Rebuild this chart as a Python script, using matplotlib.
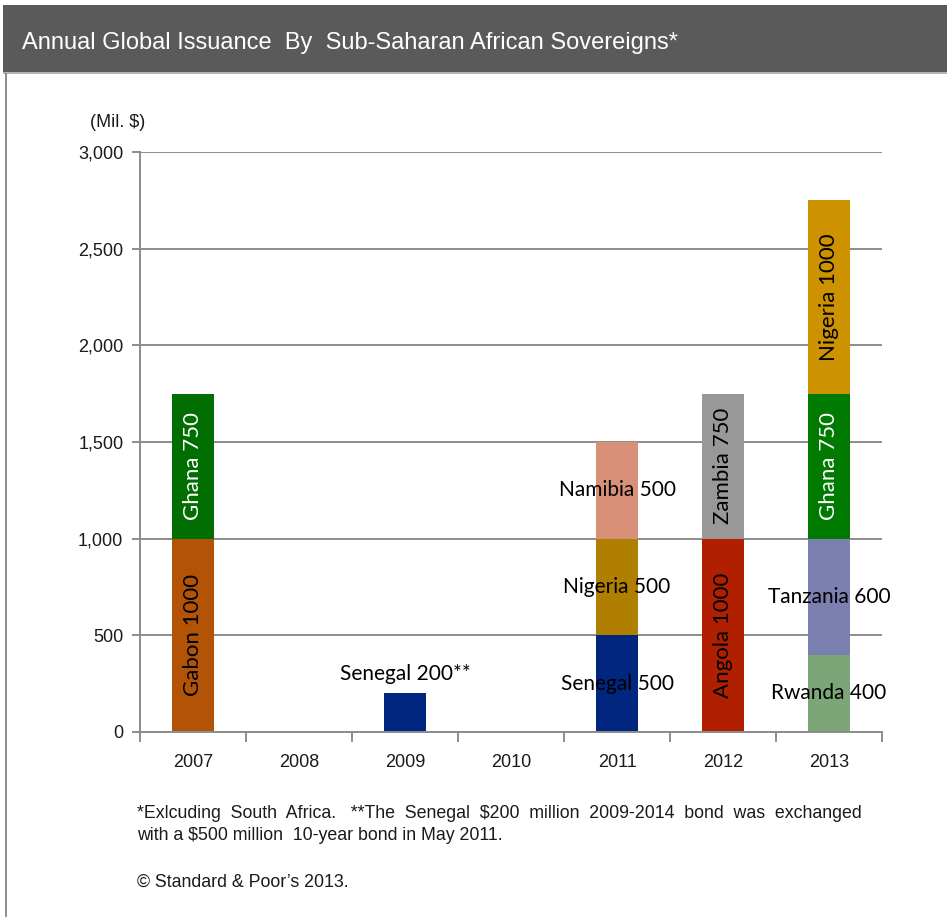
"""
Annual global issuance by Sub-Saharan African sovereigns, stacked by year
"""
import matplotlib.pyplot as plt
from matplotlib.patches import Rectangle
from matplotlib.ticker import FuncFormatter

years = ['2007', '2008', '2009', '2010', '2011', '2012', '2013']

# one entry per issue: year index, issuer, amount (mil. $)
issue_year = [0, 0, 2, 4, 4, 4, 5, 5, 6, 6, 6, 6]
issue_country = ['Gabon', 'Ghana', 'Senegal', 'Senegal', 'Nigeria', 'Namibia',
                 'Angola', 'Zambia', 'Rwanda', 'Tanzania', 'Ghana', 'Nigeria']
issue_amount = [1000, 750, 200, 500, 500, 500, 1000, 750, 400, 600, 750, 1000]
issue_note = ['', '', '**', '', '', '', '', '', '', '', '', '']

issue_color = ['#b35306', '#006e00', '#002680', '#002680', '#b07f00', '#d99078',
               '#b02000', '#989898', '#7da678', '#7b80b0', '#007a00', '#cc9200']
# how each label is placed: v = rotated inside, h = flat inside, top = above bar
label_mode = ['v', 'v', 'top', 'h', 'h', 'h', 'v', 'v', 'h', 'h', 'v', 'v']
label_color = ['black', 'white', 'black', 'black', 'black', 'black',
               'black', 'black', 'black', 'black', 'white', 'black']

W, H = 947, 917
fig = plt.figure(figsize=(W / 100, H / 100), dpi=100)
fig.patch.set_facecolor('white')

# header band and left frame line
fig.patches.append(Rectangle((3 / W, 1 - 72 / H), 1, 67 / H, transform=fig.transFigure,
                             facecolor='#5a5a5a', edgecolor='none'))
fig.patches.append(Rectangle((3 / W, 1 - 74 / H), 1, 2 / H, transform=fig.transFigure,
                             facecolor='#b4b4b4', edgecolor='none'))
fig.lines.append(plt.Line2D([5.5 / W, 5.5 / W], [0, 1 - 74 / H], transform=fig.transFigure,
                            color='#7a7a7a', lw=1.2))

narrow = ['Liberation Sans', 'DejaVu Sans']
fig.text(22 / W, 1 - 43 / H, 'Annual Global Issuance  By  Sub-Saharan African Sovereigns*',
         color='white', fontsize=17, family=narrow, va='center', ha='left')

ax = fig.add_axes([140 / W, 1 - 732 / H, 742 / W, 580 / H])
ax.set_xlim(-0.5, len(years) - 0.5)
ax.set_ylim(0, 3000)

grid_c = '#8c8c8c'
ax.set_yticks(range(0, 3001, 500))
ax.yaxis.set_major_formatter(FuncFormatter(lambda v, p: f'{int(v):,}'))
ax.grid(axis='y', color=grid_c, lw=1.4)
ax.set_axisbelow(True)
for s in ['top', 'right']:
    ax.spines[s].set_visible(False)
for s in ['left', 'bottom']:
    ax.spines[s].set_color(grid_c)
    ax.spines[s].set_linewidth(1.4)

ax.set_xticks([i - 0.5 for i in range(len(years) + 1)])
ax.set_xticklabels([])
ax.set_xticks(range(len(years)), minor=True)
ax.set_xticklabels(years, minor=True)
ax.tick_params(axis='x', which='major', length=7, width=1.4, color=grid_c)
ax.tick_params(axis='x', which='minor', length=0, pad=16)
ax.tick_params(axis='y', length=6, width=1.4, color=grid_c, pad=6)
for lab in ax.get_xticklabels(minor=True) + ax.get_yticklabels():
    lab.set_family(narrow)
    lab.set_fontsize(13)
    lab.set_color('#1a1a1a')

bar_font = ['Lato', 'DejaVu Sans']
bottoms = [0] * len(years)
for yi, name, amt, note, col, mode, tcol in zip(issue_year, issue_country, issue_amount,
                                                 issue_note, issue_color, label_mode, label_color):
    base = bottoms[yi]
    ax.bar(yi, amt, bottom=base, width=0.4, color=col, edgecolor='none', zorder=2)
    bottoms[yi] += amt
    text = f'{name} {amt}{note}'
    if mode == 'v':
        ax.text(yi, base + amt / 2, text, rotation=90, ha='center', va='center',
                color=tcol, fontsize=16, family=bar_font, zorder=3)
    elif mode == 'h':
        ax.text(yi, base + amt / 2, text, ha='center', va='center',
                color=tcol, fontsize=15, family=bar_font, zorder=3)
    else:
        ax.annotate(text, (yi, base + amt), xytext=(0, 14), textcoords='offset points',
                    ha='center', va='center', color=tcol, fontsize=15, family=bar_font)

fig.text(90 / W, 1 - 122 / H, '(Mil. $)', fontsize=13, family=narrow, va='center',
         color='#1a1a1a')

fig.text(137 / W, 1 - 813 / H,
         '*Exlcuding  South  Africa.   **The  Senegal  $200  million  2009-2014  bond  was  exchanged',
         fontsize=12.8, family=narrow, va='center', color='#1a1a1a')
fig.text(137 / W, 1 - 836 / H, 'with a $500 million  10-year bond in May 2011.',
         fontsize=12.8, family=narrow, va='center', color='#1a1a1a')
fig.text(137 / W, 1 - 882 / H, '\u00a9 Standard & Poor\u2019s 2013.',
         fontsize=12.8, family=narrow, va='center', color='#1a1a1a')

fig.savefig('out.png', dpi=100)
